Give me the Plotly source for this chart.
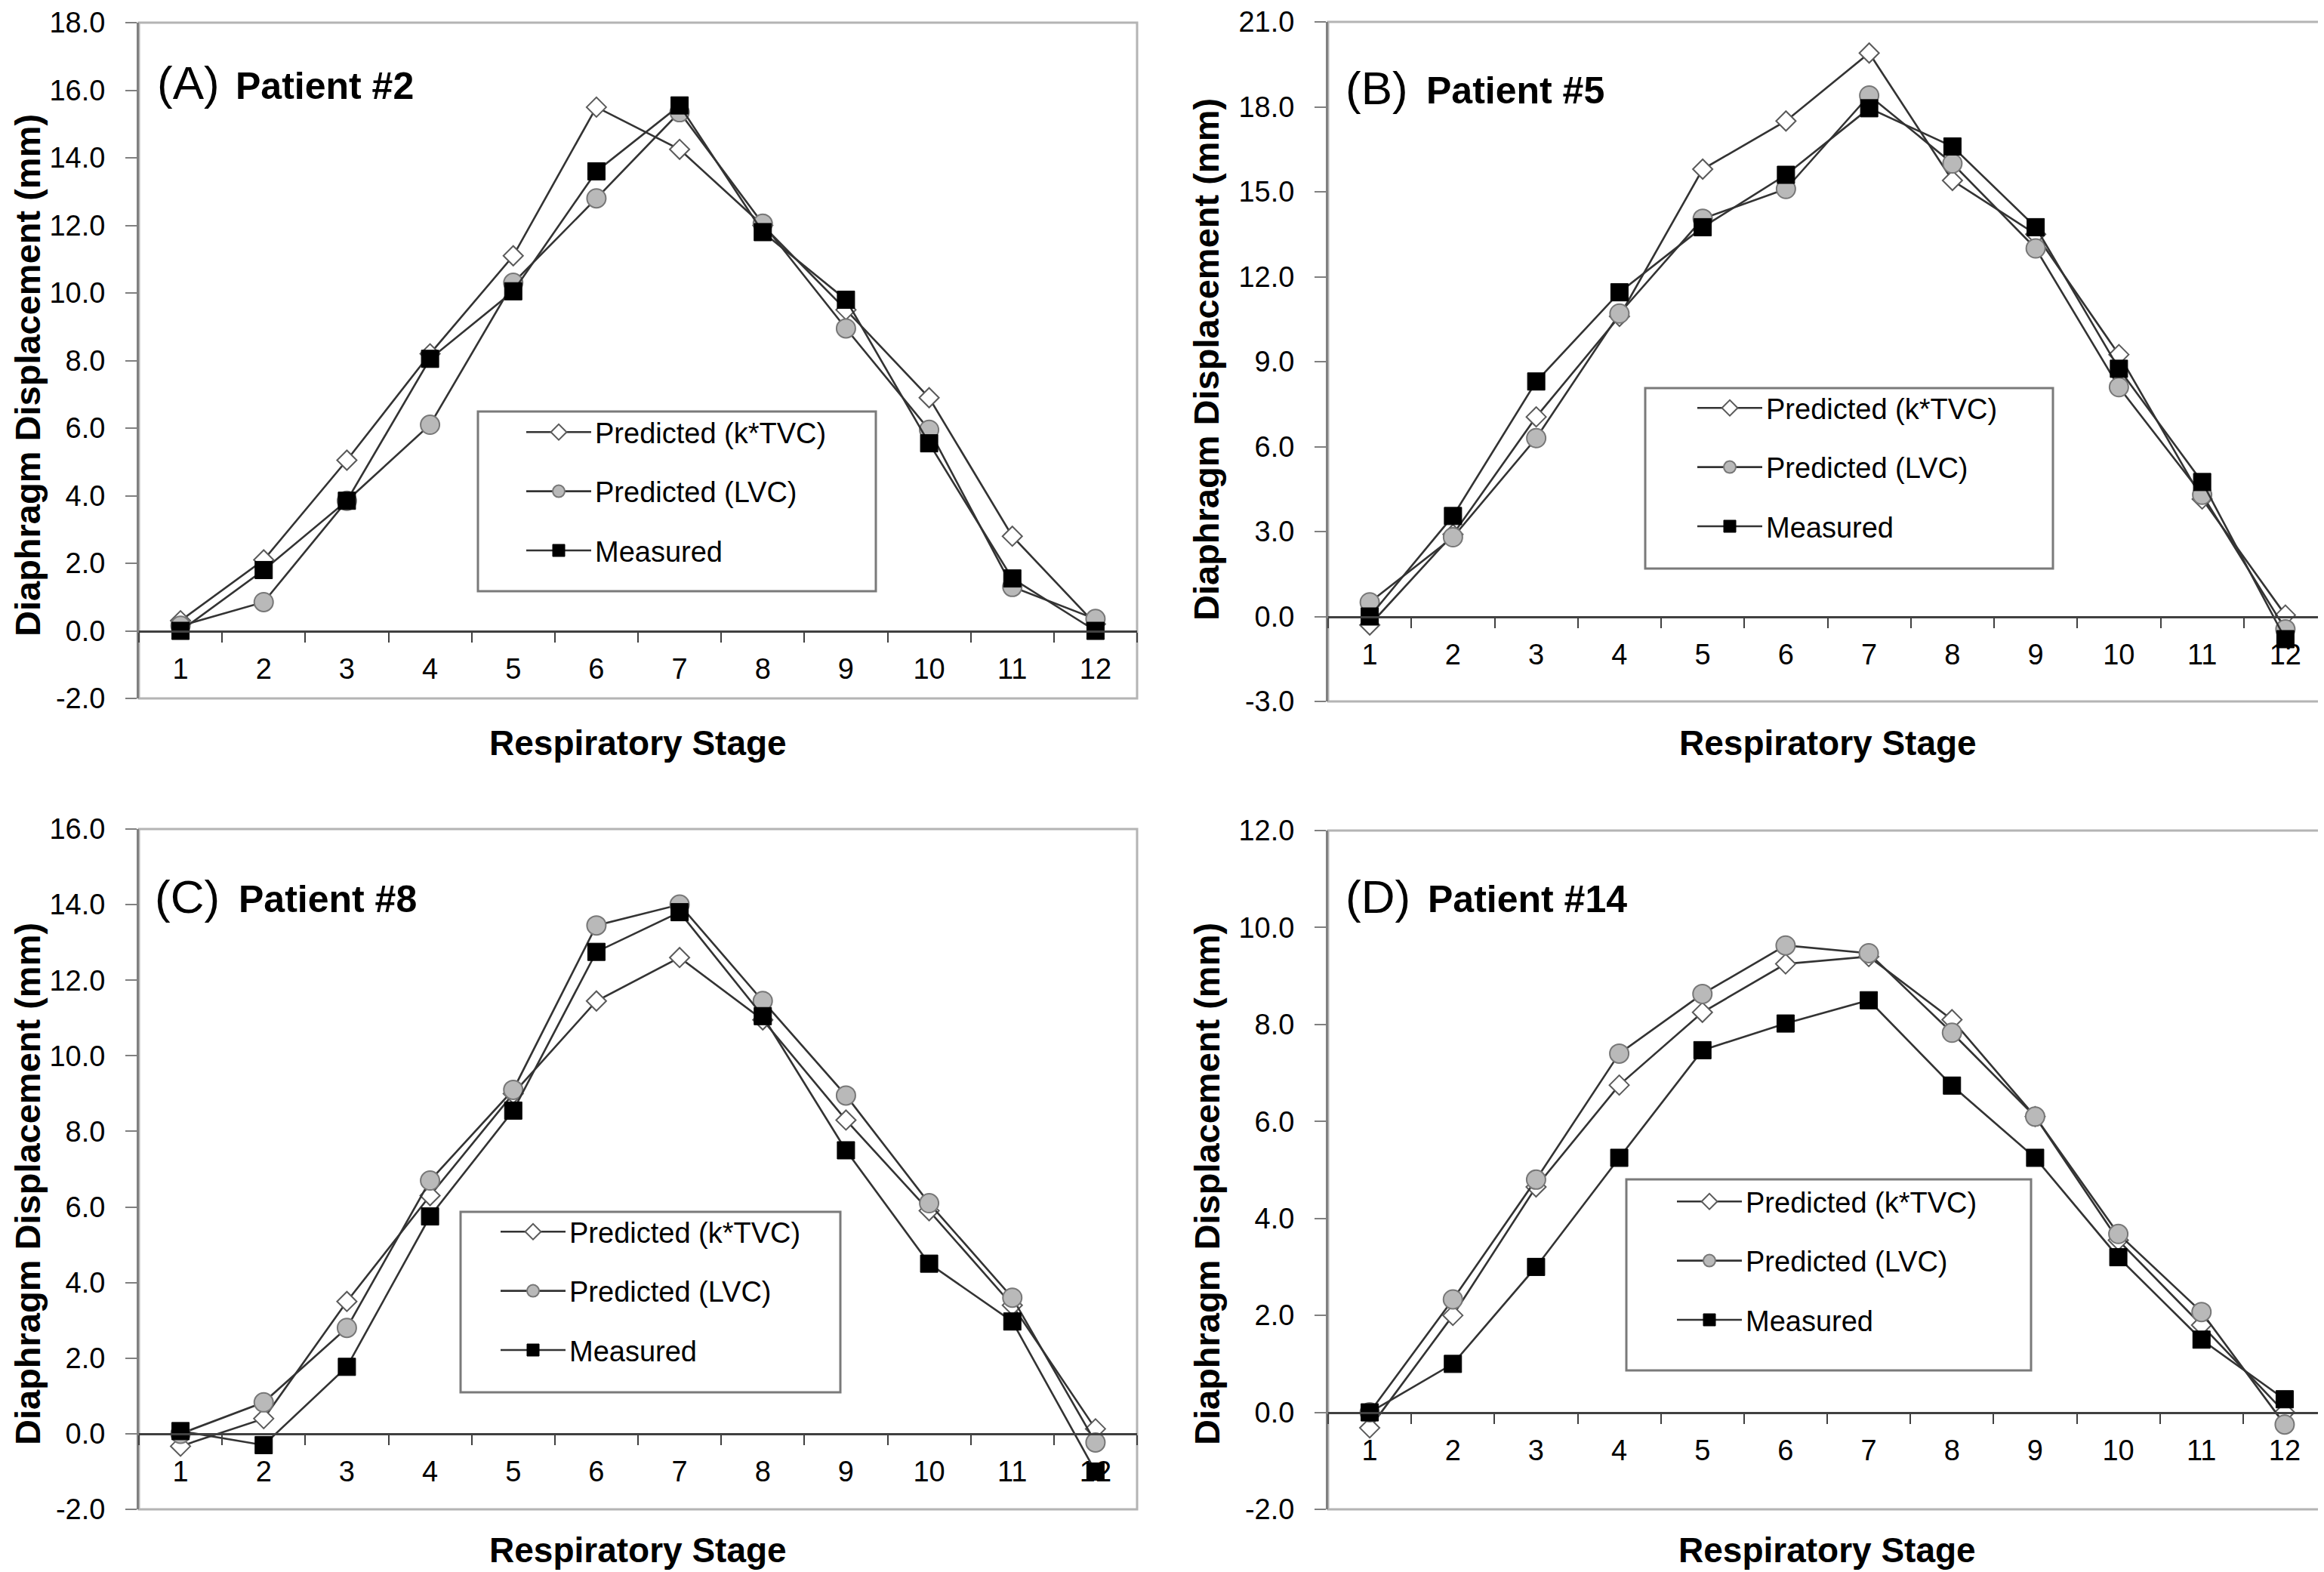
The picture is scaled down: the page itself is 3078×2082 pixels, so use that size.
import plotly.graph_objects as go

W, H = 3078, 2082

stages = [str(i) for i in range(1, 13)]
series_names = ["Predicted (k*TVC)", "Predicted (LVC)", "Measured"]

# Panel A - Patient #2
a_ktvc = [0.3, 2.1, 5.05, 8.2, 11.1, 15.5, 14.25, 12.0, 9.5, 6.9, 2.8, 0.2]
a_lvc = [0.15, 0.85, 3.85, 6.1, 10.3, 12.8, 15.35, 12.05, 8.95, 5.95, 1.3, 0.35]
a_meas = [0.0, 1.8, 3.85, 8.05, 10.05, 13.6, 15.55, 11.8, 9.8, 5.55, 1.55, 0.0]

# Panel B - Patient #5
b_ktvc = [-0.3, 2.9, 7.05, 10.6, 15.8, 17.5, 19.9, 15.4, 13.5, 9.25, 4.15, 0.05]
b_lvc = [0.5, 2.8, 6.3, 10.7, 14.05, 15.1, 18.4, 16.0, 13.0, 8.1, 4.3, -0.45]
b_meas = [0.0, 3.55, 8.3, 11.45, 13.75, 15.6, 17.95, 16.6, 13.75, 8.75, 4.75, -0.8]

# Panel C - Patient #8
c_ktvc = [-0.33, 0.4, 3.5, 6.3, 9.0, 11.45, 12.6, 10.95, 8.3, 5.9, 3.4, 0.13]
c_lvc = [0.0, 0.83, 2.8, 6.7, 9.1, 13.45, 14.0, 11.45, 8.95, 6.1, 3.6, -0.23]
c_meas = [0.07, -0.3, 1.77, 5.75, 8.55, 12.75, 13.8, 11.05, 7.5, 4.5, 2.97, -1.0]

# Panel D - Patient #14
d_ktvc = [-0.32, 2.0, 4.65, 6.75, 8.25, 9.25, 9.4, 8.1, 6.1, 3.55, 1.8, 0.0]
d_lvc = [0.0, 2.33, 4.8, 7.4, 8.63, 9.63, 9.47, 7.83, 6.1, 3.68, 2.07, -0.25]
d_meas = [0.0, 1.0, 3.0, 5.25, 7.47, 8.02, 8.5, 6.74, 5.25, 3.2, 1.5, 0.27]

panel_letters = ["(A)", "(B)", "(C)", "(D)"]
panel_titles = ["Patient #2", "Patient #5", "Patient #8", "Patient #14"]
y_ranges = [(-2, 18, 2), (-3, 21, 3), (-2, 16, 2), (-2, 12, 2)]
x_title = "Respiratory Stage"
y_title = "Diaphragm Displacement (mm)"

data = [
    (a_ktvc, a_lvc, a_meas),
    (b_ktvc, b_lvc, b_meas),
    (c_ktvc, c_lvc, c_meas),
    (d_ktvc, d_lvc, d_meas),
]

# ---- layout geometry (pixels) ----
plot_px = [  # left, right, top, bottom
    (176, 1498, 22, 917),
    (1751, 3074, 21, 921),
    (176, 1498, 1090, 1991),
    (1751, 3073, 1092, 1991),
]
legend_box_px = [  # x0, x1, y0, y1
    (625, 1152, 537, 775),
    (2171, 2711, 506, 745),
    (602, 1105, 1597, 1836),
    (2146, 2682, 1554, 1807),
]
legend_item_px = [  # line start x, first entry center y
    (694, 579),
    (2245, 547),
    (660, 1638),
    (2218, 1598),
]
label_px = [  # letter x, title x, caps center y
    (207, 312, 106),
    (1781, 1889, 112),
    (204, 316, 1183),
    (1781, 1891, 1183),
]
xtitle_y_px = [976, 976, 2045, 2045]
ytitle_px = [(28, 489), (1590, 468), (28, 1560), (1590, 1560)]

FONT = "Liberation Sans, Arial, sans-serif"
TICK_SIZE = 38
LEG_SIZE = 38
LINE_COL = "#333333"

styles = [
    dict(symbol="diamond", size=20, color="white", line=dict(color="#5a5a5a", width=2)),
    dict(symbol="circle", size=25, color="#b9b9b9", line=dict(color="#777777", width=2)),
    dict(symbol="square", size=23, color="black", line=dict(color="black", width=1)),
]

def px_x(x):
    return x / W

def px_y(y):
    return 1 - y / H

fig = go.Figure()
layout = dict(
    template="none",
    width=W, height=H, margin=dict(l=0, r=0, t=0, b=0, pad=0, autoexpand=False),
    paper_bgcolor="white", plot_bgcolor="white",
    font=dict(family=FONT, color="black"),
    showlegend=True,
)
shapes = []
annotations = []

for i in range(4):
    n = "" if i == 0 else str(i + 1)
    xa, ya = "x" + n, "y" + n
    l, r, t, b = plot_px[i]
    ymin, ymax, step = y_ranges[i]
    dom_y = [px_y(b), px_y(t)]
    zero_paper = dom_y[0] + (0 - ymin) / (ymax - ymin) * (dom_y[1] - dom_y[0])
    legname = "legend" + n

    for k, ys in enumerate(data[i]):
        fig.add_trace(go.Scatter(
            x=stages, y=ys, mode="lines+markers", name=series_names[k],
            line=dict(color=LINE_COL, width=2.6),
            marker=styles[k],
            xaxis=xa, yaxis=ya, legend=legname,
            legendgroup=f"g{i}{k}",
            cliponaxis=False,
        ))

    tickvals = []
    v = ymin
    while v <= ymax + 1e-9:
        tickvals.append(v)
        v += step
    ticktext = [f"{tv:.1f}" for tv in tickvals]

    layout["xaxis" + n] = dict(
        domain=[px_x(l), px_x(r)], type="category", automargin=False,
        categoryorder="array", categoryarray=stages, range=[-0.5, 11.5],
        anchor="free", position=zero_paper,
        tickson="boundaries", ticks="outside", ticklen=13, tickwidth=2,
        tickcolor="#404040", showline=True, linecolor="#404040", linewidth=3,
        showgrid=False, zeroline=False, ticklabeloverflow="allow",
        tickfont=dict(size=TICK_SIZE, family=FONT, color="black"),
        ticklabelstandoff=16,
    )
    layout["yaxis" + n] = dict(
        domain=dom_y, anchor=xa, range=[ymin, ymax], automargin=False,
        tickmode="array", tickvals=tickvals, ticktext=ticktext,
        ticks="outside", ticklen=15, tickwidth=2, tickcolor="#808080",
        showline=True, linecolor="#808080", linewidth=3,
        showgrid=False, zeroline=False, ticklabeloverflow="allow",
        tickfont=dict(size=TICK_SIZE, family=FONT, color="black"),
        ticklabelstandoff=19,
    )
    # plot frame
    shapes.append(dict(type="rect", xref=xa + " domain", yref=ya + " domain",
                       x0=0, x1=1, y0=0, y1=1, layer="below",
                       line=dict(color="#b4b4b4", width=3)))
    # legend box
    bx0, bx1, by0, by1 = legend_box_px[i]
    shapes.append(dict(type="rect", xref="paper", yref="paper",
                       x0=px_x(bx0), x1=px_x(bx1), y0=px_y(by1), y1=px_y(by0),
                       line=dict(color="#7a7a7a", width=3), fillcolor="white",
                       layer="below"))
    lx, ly = legend_item_px[i]
    layout[legname] = dict(
        x=px_x(lx - 10), y=px_y(ly - 46), xanchor="left", yanchor="top",
        bgcolor="rgba(0,0,0,0)", borderwidth=0,
        font=dict(size=LEG_SIZE, family=FONT, color="black"),
        itemwidth=86, tracegroupgap=26, traceorder="grouped",
    )
    # panel labels
    lx1, lx2, cy = label_px[i]
    annotations.append(dict(text=panel_letters[i], xref="paper", yref="paper",
                            x=px_x(lx1 - 9), y=px_y(cy - 4), xanchor="left",
                            yanchor="middle", showarrow=False,
                            font=dict(size=62, family=FONT, color="black")))
    annotations.append(dict(text="<b>" + panel_titles[i] + "</b>", xref="paper", yref="paper",
                            x=px_x(lx2 - 10), y=px_y(cy), xanchor="left",
                            yanchor="middle", showarrow=False,
                            font=dict(size=50, family=FONT, color="black")))
    # axis titles
    annotations.append(dict(text="<b>" + x_title + "</b>", xref="paper", yref="paper",
                            x=px_x((l + r) / 2), y=px_y(xtitle_y_px[i]),
                            xanchor="center", yanchor="middle", showarrow=False,
                            font=dict(size=46, family=FONT, color="black")))
    yx, yy = ytitle_px[i]
    annotations.append(dict(text="<b>" + y_title + "</b>", xref="paper", yref="paper",
                            x=px_x(yx), y=px_y(yy), xanchor="center", yanchor="middle",
                            textangle=-90, showarrow=False,
                            font=dict(size=47, family=FONT, color="black")))

layout["shapes"] = shapes
layout["annotations"] = annotations
fig.update_layout(**layout)

fig.write_html("out.html")
